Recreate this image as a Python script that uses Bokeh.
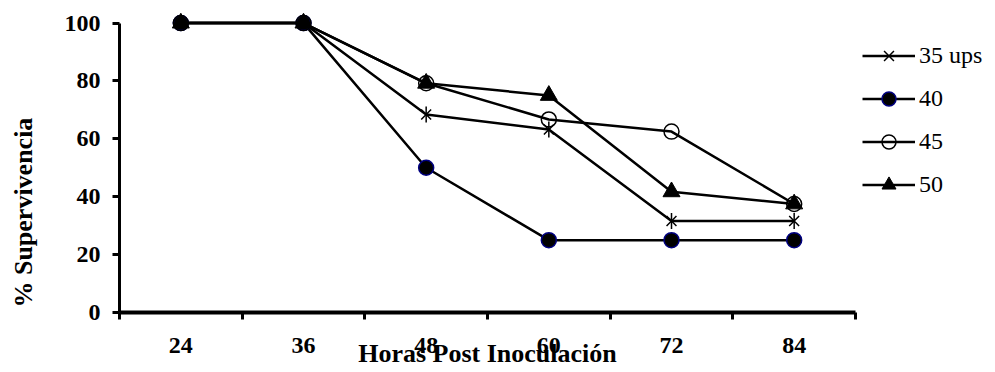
import math
from bokeh.plotting import figure
from bokeh.layouts import row
from bokeh.models import FixedTicker, Legend, LegendItem, Range1d, Label
from bokeh.embed import file_html
from bokeh.resources import INLINE

# ---- data ----
hours = [24, 36, 48, 60, 72, 84]
s35 = [100, 100, 68.4, 63.2, 31.6, 31.6]
s40 = [100, 100, 50.0, 25.0, 25.0, 25.0]
s45 = [100, 100, 79.2, 66.7, 62.5, 37.5]
s50 = [100, 100, 79.2, 75.0, 41.7, 37.5]
series_labels = ["35 ups", "40", "45", "50"]
y_ticks = [0, 20, 40, 60, 80, 100]
x_bounds = [18, 30, 42, 54, 66, 78, 90]
x_title = "Horas Post Inoculación"
y_title = "% Supervivencia"

FONT = "Liberation Serif"

# narrow side figure that only carries the y title
yfig = figure(frame_width=46, frame_height=301,
              x_range=Range1d(0, 46), y_range=Range1d(0, 104),
              output_backend="svg", toolbar_location=None,
              min_border_left=0, min_border_right=0, min_border_top=11,
              min_border_bottom=0)
yfig.axis.visible = False
yfig.grid.visible = False
yfig.outline_line_color = None
yfig.add_layout(Label(x=23, y=1.7, text=y_title, angle=math.pi / 2,
                      text_align="left", text_baseline="middle",
                      text_font=FONT, text_font_size="26px",
                      text_font_style="bold", text_color="black"))

p = figure(frame_width=736, frame_height=301,
           x_range=Range1d(18, 90), y_range=Range1d(0, 104),
           output_backend="svg", toolbar_location=None,
           min_border_left=73, min_border_top=11, min_border_right=132,
           min_border_bottom=50)
p.grid.visible = False
p.outline_line_color = None
p.background_fill_color = "white"

# x axis
xa = p.xaxis[0]
xa.ticker = FixedTicker(ticks=hours, minor_ticks=x_bounds)
xa.major_tick_out = 0
xa.major_tick_in = 0
xa.minor_tick_out = 7
xa.minor_tick_in = 0
xa.minor_tick_line_width = 3
xa.minor_tick_line_color = "black"
xa.axis_line_width = 4
xa.axis_line_color = "black"
xa.major_label_text_font = FONT
xa.major_label_text_font_size = "24px"
xa.major_label_text_font_style = "bold"
xa.major_label_text_color = "black"
xa.major_label_standoff = 18
xa.axis_label = x_title
xa.axis_label_text_font = FONT
xa.axis_label_text_font_size = "26px"
xa.axis_label_text_font_style = "bold"
xa.axis_label_text_color = "black"
xa.axis_label_standoff = -17

# y axis
ya = p.yaxis[0]
ya.ticker = FixedTicker(ticks=y_ticks)
ya.bounds = (0, 100)
ya.major_tick_out = 7
ya.major_tick_in = 0
ya.major_tick_line_width = 3
ya.major_tick_line_color = "black"
ya.minor_tick_line_color = None
ya.axis_line_width = 3
ya.axis_line_color = "black"
ya.major_label_text_font = FONT
ya.major_label_text_font_size = "24px"
ya.major_label_text_font_style = "bold"
ya.major_label_text_color = "black"
ya.major_label_standoff = 12

LW = 2.5
# 35 ups : asterisk (X + vertical bar)
l35 = p.line(hours, s35, line_color="black", line_width=LW)
x35 = p.scatter(hours, s35, marker="x", size=14, line_color="black", line_width=1.5)
d35 = p.scatter(hours, s35, marker="dash", size=16, angle=math.pi / 2,
                line_color="black", line_width=1.5)
# 40 : filled circle, navy outline
l40 = p.line(hours, s40, line_color="black", line_width=LW)
c40 = p.scatter(hours, s40, marker="circle", size=15, fill_color="black",
                line_color="#000080", line_width=1.5)
# 45 : open circle
l45 = p.line(hours, s45, line_color="black", line_width=LW)
c45 = p.scatter(hours, s45, marker="circle", size=15, fill_color=None,
                line_color="black", line_width=1.5)
# 50 : filled triangle
l50 = p.line(hours, s50, line_color="black", line_width=LW)
t50 = p.scatter(hours, s50, marker="triangle", size=17, fill_color="black",
                line_color="black", line_width=1)

items = [
    LegendItem(label=series_labels[0], renderers=[l35, x35, d35]),
    LegendItem(label=series_labels[1], renderers=[l40, c40]),
    LegendItem(label=series_labels[2], renderers=[l45, c45]),
    LegendItem(label=series_labels[3], renderers=[l50, t50]),
]
legend = Legend(items=items, location=(7, 110), glyph_width=53,
                glyph_height=35, label_height=35, spacing=8,
                label_standoff=4, padding=0, margin=0,
                border_line_color=None, background_fill_alpha=0,
                label_text_font=FONT, label_text_font_size="24px",
                label_text_color="black")
p.add_layout(legend, "right")

layout = row(yfig, p, spacing=0)
open("out.html", "w").write(file_html(layout, INLINE))
